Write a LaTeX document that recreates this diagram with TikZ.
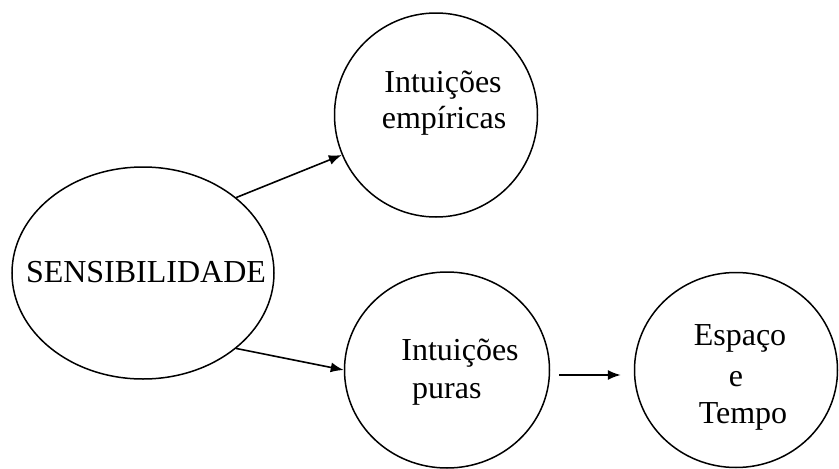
\documentclass[tikz,border=0pt]{standalone}
\usepackage{fontspec}
\setmainfont{Liberation Serif}
\usetikzlibrary{shapes.geometric,arrows.meta}
\begin{document}
\begin{tikzpicture}[x=1pt,y=-1pt,
  bubble/.style={draw=black,line width=1.5pt,ellipse,inner sep=0pt},
  lbl/.style={anchor=base,inner sep=0pt,font=\fontsize{32}{32}\selectfont},
  conn/.style={line width=1.6pt,-{Latex[length=13pt,width=10pt]}}]
\useasboundingbox (0,0) rectangle (839,469);
\node[bubble,minimum width=262pt,minimum height=212pt] (sens) at (143,273) {};
\node[bubble,minimum width=203pt,minimum height=204pt] (emp) at (436,115) {};
\node[bubble,minimum width=205pt,minimum height=196pt] (pur) at (447,370) {};
\node[bubble,minimum width=203pt,minimum height=195pt] (esp) at (736,370) {};
\node[lbl] (t1) at (146,282) {SENSIBILIDADE};
\node[lbl] (t2) at (443,92) {Intuições};
\node[lbl] (t3) at (444,128) {empíricas};
\node[lbl] (t4) at (460,360) {Intuições};
\node[lbl,anchor=base west] (t5) at (412,398) {puras};
\node[lbl] (t6) at (740,345) {Espaço};
\node[lbl] (t7) at (736,386) {e};
\node[lbl] (t8) at (743,423) {Tempo};
\draw[conn] (sens.39) -- (emp.203);
\draw[conn] (sens.-39) -- (pur.180);
\draw[conn,shorten <=9pt,shorten >=13pt] ([yshift=-5pt]pur.east) -- ([yshift=-5pt]esp.west);
\end{tikzpicture}
\end{document}
